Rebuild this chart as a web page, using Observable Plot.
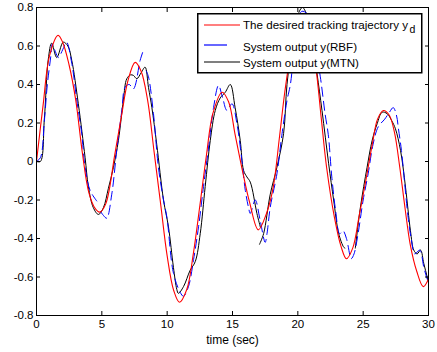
<!DOCTYPE html>
<html>
<head>
<meta charset="utf-8">
<script src="https://cdn.jsdelivr.net/npm/d3@7"></script>
<script src="https://cdn.jsdelivr.net/npm/@observablehq/plot@0.6"></script>
<style>
  html, body { margin: 0; padding: 0; background: #fff; }
  #wrap { position: relative; width: 437px; height: 352px; font-family: "Liberation Sans", Arial, sans-serif; }
  #legend { position: absolute; left: 197px; top: 13px; overflow: visible; }
</style>
</head>
<body>
<div id="wrap"></div>
<script>
// ---- data ----
const xTicks = [0, 5, 10, 15, 20, 25, 30];
const yTicks = [-0.8, -0.6, -0.4, -0.2, 0, 0.2, 0.4, 0.6, 0.8];
const xLabel = "time (sec)";
const legendLabels = ["The desired tracking trajectory y", "System output y(RBF)", "System output y(MTN)"];
const legendSub = "d";

// desired trajectory y_d
const desiredT = [0,0.5,1,1.65,2,2.5,3,3.5,4,4.5,4.84,5.3,6,6.5,7,7.55,8,8.5,9,9.5,10,10.5,10.94,11.5,12,12.5,13,13.5,14.2,14.7,15.2,15.8,16.3,16.97,17.6,18.1,18.6,19,19.5,20,20.4,20.9,21.4,21.8,22.2,22.8,23.3,23.72,24.2,24.7,25.2,25.7,26.1,26.55,27,27.4,27.8,28.2,28.6,29.1,29.6,30];
const desiredY = [0,0.29,0.55,0.655,0.62,0.5,0.32,0.05,-0.16,-0.245,-0.263,-0.22,0.04,0.235,0.42,0.515,0.47,0.32,0.05,-0.22,-0.49,-0.67,-0.731,-0.665,-0.48,-0.23,0.03,0.25,0.36,0.31,0.14,-0.06,-0.21,-0.355,-0.27,-0.14,0.13,0.36,0.58,0.72,0.77,0.71,0.48,0.22,-0.03,-0.29,-0.44,-0.505,-0.45,-0.28,-0.1,0.09,0.22,0.265,0.24,0.15,-0.03,-0.24,-0.43,-0.57,-0.65,-0.61];

// system output y (RBF) — null marks a break in the trace
const rbfT = [0,0.3,0.6,0.83,1.1,1.2,1.45,1.67,2.0,2.3,2.7,3.08,3.46,3.7,4.1,4.61,4.75,4.9,5.12,5.37,5.76,6.14,6.53,6.78,7.1,7.42,7.93,8.14,8.3,8.4,8.57,8.95,9.33,9.72,9.98,10.48,11.0,11.25,11.63,12.02,12.4,12.78,13.17,13.55,13.93,14.25,14.57,14.96,15.34,15.72,15.98,16.23,16.36,16.74,17.1,17.5,17.64,17.89,18.4,18.79,19.17,19.43,19.8,20.3,20.8,21.3,21.72,22.08,22.33,22.6,22.9,23.2,23.46,23.72,24.0,24.1,24.3,24.61,25.0,25.38,25.76,26.15,26.65,27.0,27.3,27.55,27.7,27.93,28.18,28.44,28.7,28.95,29.33,29.64,29.85,30];
const rbfY = [0,0.02,0.21,0.4,0.55,0.61,0.57,0.54,0.58,0.62,0.51,0.32,0.144,-0.02,-0.15,-0.205,null,-0.26,-0.28,-0.295,-0.17,0.057,0.265,0.386,0.4,0.377,0.525,0.57,null,0.47,0.44,0.25,-0.03,-0.2,-0.29,-0.58,-0.68,-0.7,-0.65,-0.51,-0.34,-0.13,0.075,0.28,0.395,0.33,0.265,0.3,0.196,0.005,-0.15,-0.24,-0.27,-0.2,-0.3,-0.42,-0.375,-0.237,-0.064,0.144,0.317,0.4,0.62,0.78,0.76,0.6,0.44,0.25,0.14,-0.08,-0.26,-0.375,-0.36,-0.4,-0.49,-0.505,-0.48,-0.375,-0.2,-0.064,0.09,0.18,0.22,0.255,0.28,0.24,0.17,0.057,-0.116,-0.29,-0.41,-0.48,-0.46,-0.55,-0.6,-0.63];

// system output y (MTN) — null marks a break in the trace
const mtnT = [0,0.3,0.6,0.9,1.16,1.55,2.05,2.4,2.7,3.2,3.72,3.97,4.35,4.74,5.12,5.5,5.89,6.27,6.65,6.91,7.2,7.42,7.68,8.0,8.31,8.57,8.83,9.2,9.72,10.1,10.48,10.74,10.86,11.25,11.76,12.15,12.53,12.91,13.3,13.68,14.06,14.45,14.83,15.2,15.59,15.85,16.1,16.36,16.87,17.13,17.1,17.07,17.38,17.89,18.4,18.91,19.17,19.6,20.0,20.35,20.8,21.2,21.47,21.85,22.36,22.74,23.13,23.51,23.6,24.0,24.4,24.79,25.3,25.69,26.07,26.45,26.84,27.2,27.47,27.86,28.24,28.62,28.87,29.13,29.39,29.64,29.9,30];
const mtnY = [0,0,0.22,0.53,0.615,0.54,0.62,0.6,0.525,0.3,0.02,-0.13,-0.24,-0.275,-0.24,-0.14,-0.03,0.11,0.32,0.43,0.45,0.447,0.43,0.46,0.49,0.385,0.28,0.09,-0.2,-0.34,-0.55,-0.665,-0.685,-0.65,-0.565,-0.52,-0.375,-0.13,0.11,0.265,0.33,0.36,0.4,0.28,0.11,-0.047,-0.08,-0.107,-0.27,-0.34,null,-0.43,-0.375,-0.17,-0.03,0.145,0.4,0.62,0.76,0.8,0.74,0.58,0.456,0.265,-0.012,-0.2,-0.375,-0.445,-0.45,null,-0.45,-0.237,-0.03,0.11,0.196,0.256,0.248,0.21,0.17,0.057,-0.133,-0.36,-0.46,-0.48,-0.46,-0.53,-0.6,-0.63];

const toRows = (T, Y) => T.map((t, i) => ({t, y: Y[i] === null ? NaN : Y[i]}));
const desired = toRows(desiredT, desiredY);
const rbf = toRows(rbfT, rbfY);
const mtn = toRows(mtnT, mtnY);

const fmt = d => String(+d.toFixed(1));
const font = "11.5px 'Liberation Sans', Arial, sans-serif";

const chart = Plot.plot({
  width: 437,
  height: 352,
  marginLeft: 36,
  marginRight: 9,
  marginTop: 7,
  marginBottom: 37,
  style: {background: "#fff", color: "#000", font, fontSize: "11.5px", overflow: "visible"},
  x: {domain: [0, 30]},
  y: {domain: [-0.8, 0.8]},
  marks: [
    Plot.line(mtn, {x: "t", y: "y", stroke: "#000", strokeWidth: 1, curve: "catmull-rom", clip: true}),
    Plot.line(rbf, {x: "t", y: "y", stroke: "#0000ff", strokeWidth: 1, strokeDasharray: "9,5", curve: "catmull-rom", clip: true}),
    Plot.line(desired, {x: "t", y: "y", stroke: "#ff0000", strokeWidth: 1.1, curve: "catmull-rom", clip: true}),
    Plot.frame({stroke: "#000", strokeWidth: 1}),
    Plot.axisX({ticks: xTicks, anchor: "bottom", tickSize: -4, tickPadding: 8, tickFormat: fmt, label: null, fontSize: 11.5}),
    Plot.axisX({ticks: [], anchor: "bottom", label: xLabel, labelAnchor: "center", labelArrow: "none", labelOffset: 28, fontSize: 12}),
    Plot.axisX({ticks: xTicks, anchor: "top", tickSize: -4, tickFormat: () => "", label: null}),
    Plot.axisY({ticks: yTicks, anchor: "left", tickSize: -4, tickPadding: 7, tickFormat: fmt, label: null, fontSize: 11.5}),
    Plot.axisY({ticks: yTicks, anchor: "right", tickSize: -4, tickFormat: () => "", label: null})
  ]
});
const wrap = document.getElementById("wrap");
wrap.appendChild(chart);

// legend box over the top-right of the axes
const colors = ["#ff0000", "#0000ff", "#000000"];
const sampleLen = [36, 23, 36];
const rowY = [12, 32, 49];
const textY = [16, 37.5, 54];
const ns = "http://www.w3.org/2000/svg";
const lg = document.createElementNS(ns, "svg");
lg.setAttribute("id", "legend");
lg.setAttribute("width", 226);
lg.setAttribute("height", 61);
lg.style.fontFamily = "'Liberation Sans', Arial, sans-serif";
lg.style.fontSize = "11.6px";
const box = document.createElementNS(ns, "rect");
box.setAttribute("x", 0.75); box.setAttribute("y", 0.75);
box.setAttribute("width", 224); box.setAttribute("height", 59);
box.setAttribute("fill", "#fff"); box.setAttribute("stroke", "#000"); box.setAttribute("stroke-width", 1.5);
lg.appendChild(box);
legendLabels.forEach((label, i) => {
  const ln = document.createElementNS(ns, "line");
  ln.setAttribute("x1", 7); ln.setAttribute("x2", 7 + sampleLen[i]);
  ln.setAttribute("y1", rowY[i]); ln.setAttribute("y2", rowY[i]);
  ln.setAttribute("stroke", colors[i]); ln.setAttribute("stroke-width", 1.2);
  lg.appendChild(ln);
  const tx = document.createElementNS(ns, "text");
  tx.setAttribute("x", 46); tx.setAttribute("y", textY[i]);
  tx.setAttribute("fill", "#000");
  tx.textContent = label;
  if (i === 0) {
    const sub = document.createElementNS(ns, "tspan");
    sub.setAttribute("dx", 1.5); sub.setAttribute("dy", 4);
    sub.setAttribute("font-size", "10.5px");
    sub.textContent = legendSub;
    tx.appendChild(sub);
  }
  lg.appendChild(tx);
});
wrap.appendChild(lg);
</script>
</body>
</html>
